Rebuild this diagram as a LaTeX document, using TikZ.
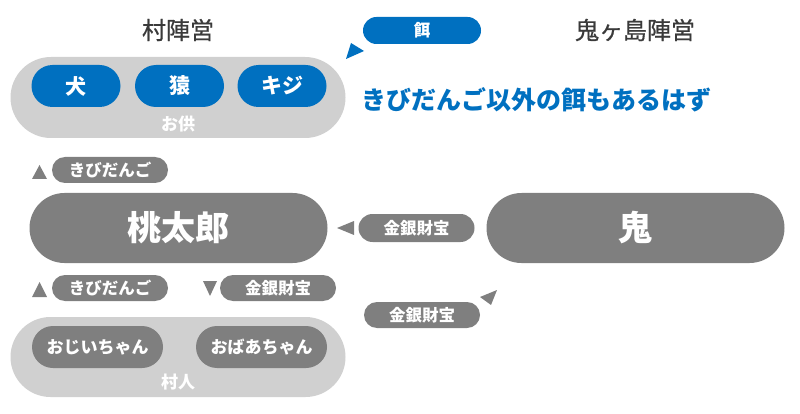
\documentclass[tikz,border=0pt]{standalone}
\usepackage{fontspec}
\setmainfont{Noto Sans CJK JP}
\newfontfamily\mediumjp{Noto Sans CJK JP}[FakeBold=0.6]
\usetikzlibrary{shapes.misc}
\definecolor{pillgray}{HTML}{7F7F7F}
\definecolor{groupgray}{HTML}{D0D0D0}
\definecolor{teamblue}{HTML}{0070C0}
\definecolor{titlegray}{HTML}{3A3A3A}
\tikzset{
  pill/.style={rounded rectangle, fill=pillgray, text=white, inner sep=0pt,
    font=\fontsize{16.5}{18}\selectfont\bfseries},
  member/.style={pill, fill=teamblue, minimum width=89pt, minimum height=42pt,
    font=\fontsize{21}{24}\selectfont\bfseries},
  folk/.style={pill, minimum width=131pt, minimum height=42pt,
    font=\fontsize{17}{19}\selectfont\bfseries},
  group/.style={rounded rectangle, fill=groupgray, inner sep=0pt,
    minimum width=335pt, minimum height=81pt},
  grouplabel/.style={text=white, font=\fontsize{17}{19}\selectfont\bfseries},
  camptitle/.style={text=titlegray, font=\fontsize{24}{28}\selectfont\mediumjp},
  tag/.style={pill, minimum width=116pt, minimum height=26pt},
  hero/.style={pill, minimum width=298pt, minimum height=70pt,
    font=\fontsize{34}{38}\selectfont\bfseries},
}
\begin{document}
\begin{tikzpicture}[x=1pt,y=-1pt]
  \useasboundingbox (0,0) rectangle (800,414);
  % camp titles
  \node[camptitle] (village) at (178,30) {村陣営};
  \node[camptitle] (island) at (635,30) {鬼ヶ島陣営};
  % companions
  \node[group] (otomo) at (178,97.5) {};
  \node[grouplabel] (otomo-label) at (178,124) {お供};
  \node[member] (dog) at (76,86) {犬};
  \node[member] (monkey) at (179.5,86) {猿};
  \node[member] (pheasant) at (282,86) {キジ};
  \node[tag, fill=teamblue, minimum width=118pt, minimum height=27pt] (bait) at (422,30.5) {餌};
  \fill[teamblue] (346,59) -- (351,43) -- (364,51) -- cycle;
  \node[text=teamblue, anchor=west, font=\fontsize{25}{28}\selectfont\bfseries] (note) at (358,100) {きびだんご以外の餌もあるはず};
  % main characters
  \node[tag] (kibi-up) at (110,170) {きびだんご};
  \fill[pillgray] (32,179) -- (47,179) -- (39.5,165) -- cycle;
  \node[hero] (momotaro) at (178.5,228) {桃太郎};
  \node[hero] (oni) at (635.5,228) {鬼};
  \node[tag, minimum height=28pt] (treasure-mid) at (416.5,228) {金銀財宝};
  \fill[pillgray] (337,228) -- (354,221) -- (354,235) -- cycle;
  % lower row
  \node[tag] (kibi-down) at (110,288) {きびだんご};
  \fill[pillgray] (32,297) -- (47,297) -- (39.5,282) -- cycle;
  \node[tag] (treasure-left) at (278,288) {金銀財宝};
  \fill[pillgray] (203,281) -- (217,281) -- (210,296) -- cycle;
  \node[tag] (treasure-low) at (422,315) {金銀財宝};
  \fill[pillgray] (480,297) -- (497,290) -- (491,305) -- cycle;
  % villagers
  \node[group, minimum height=80pt] (villagers) at (178,357) {};
  \node[folk] (grandpa) at (97.5,347) {おじいちゃん};
  \node[folk] (grandma) at (261.5,347) {おばあちゃん};
  \node[grouplabel] (villagers-label) at (178,382) {村人};
\end{tikzpicture}
\end{document}
